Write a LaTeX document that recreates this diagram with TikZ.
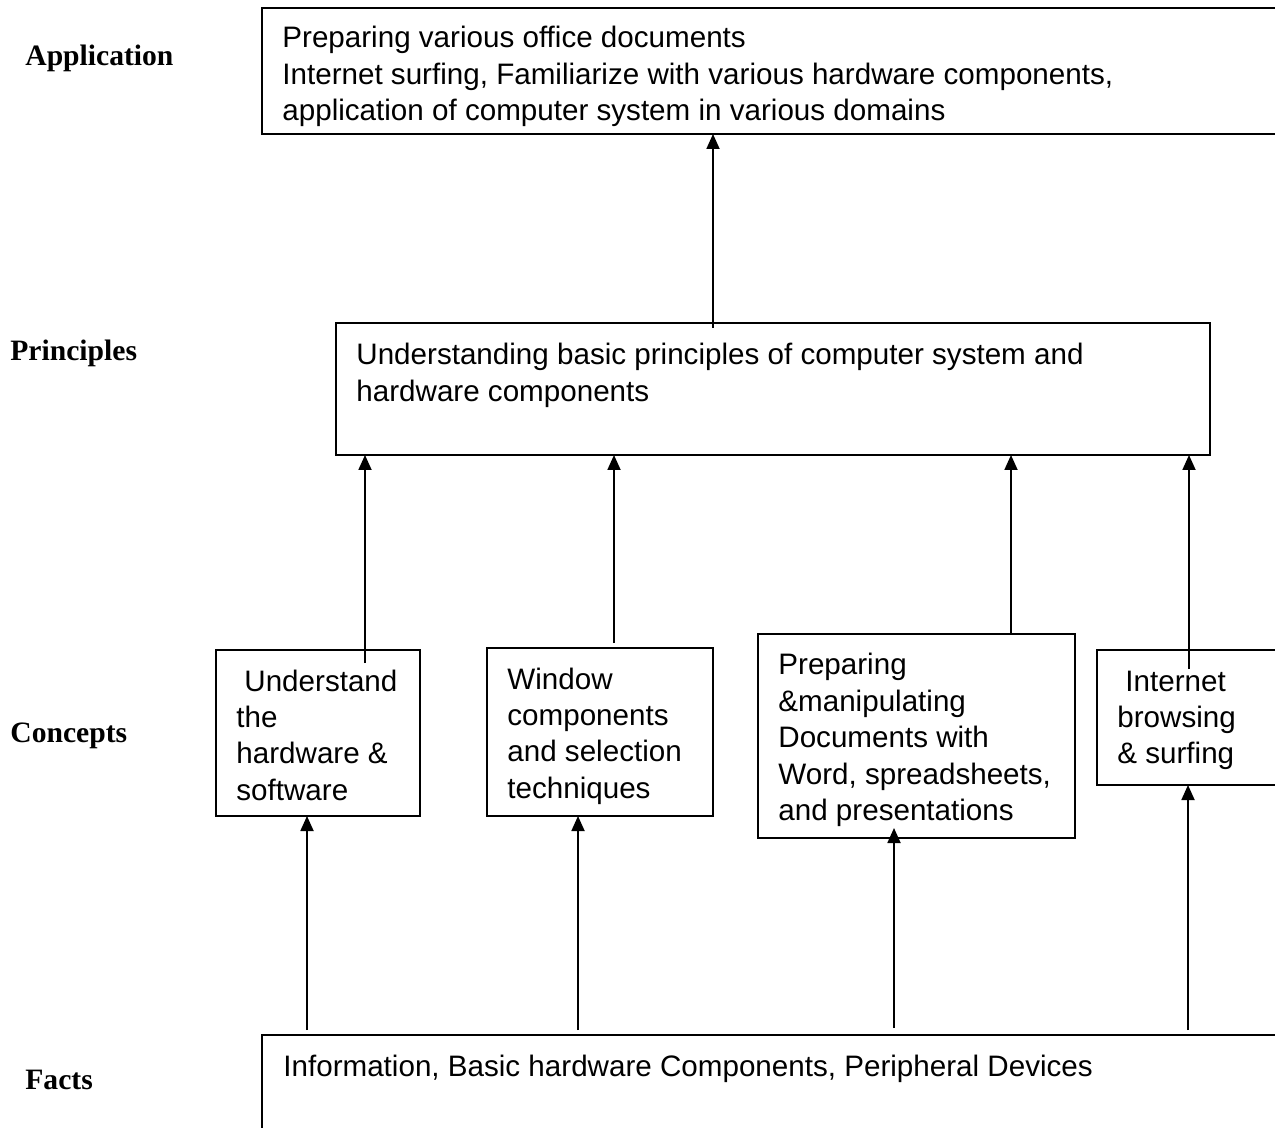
\documentclass[tikz,border=0pt]{standalone}
\usepackage{fontspec}
\setmainfont{Liberation Sans}
\newfontfamily\lblfont{Liberation Serif}
\usetikzlibrary{arrows.meta}
\newcommand\boxlines[1]{\begin{tabular}[t]{@{}l@{}}#1\end{tabular}}
\begin{document}
\begin{tikzpicture}[x=0.5pt,y=-0.5pt,
  box/.style={draw, line width=0.9pt, anchor=north west, inner sep=0pt, outer sep=0pt},
  txt/.style={anchor=base west, inner sep=0pt, font=\fontsize{14.8pt}{18.2pt}\selectfont},
  lbl/.style={anchor=west, inner sep=0pt, font=\lblfont\bfseries\fontsize{14.8pt}{17pt}\selectfont},
  arr/.style={line width=0.9pt, -{Triangle[length=7.5pt,width=6.5pt]}}]
\useasboundingbox (0,0) rectangle (1275,1128);
\clip (0,0) rectangle (1275,1128);

% boxes
\node[box, minimum width=520pt, minimum height=63pt] (app) at (262,8) {};
\node[box, minimum width=437pt, minimum height=66pt] (pr) at (336,323) {};
\node[box, minimum width=102pt, minimum height=83pt] (c1) at (216,650) {};
\node[box, minimum width=113pt, minimum height=84pt] (c2) at (487,648) {};
\node[box, minimum width=158.5pt, minimum height=102pt] (c3) at (758,634) {};
\node[box, minimum width=110pt, minimum height=67.5pt] (c4) at (1097,650) {};
\node[box, minimum width=520pt, minimum height=70pt] (fa) at (262,1035) {};

% texts
\node[txt] (appt) at (282,48) {\boxlines{Preparing various office documents\\
Internet surfing, Familiarize with various hardware components,\\
application of computer system in various domains}};
\node[txt] (prt) at (356,365) {\boxlines{Understanding basic principles of computer system and\\
hardware components}};
\node[txt] (c1t) at (236,691) {\boxlines{\hspace{4pt}Understand\\the\\hardware \&\\software}};
\node[txt] (c2t) at (507,689) {\boxlines{Window\\components\\and selection\\techniques}};
\node[txt] (c3t) at (778,675) {\boxlines{Preparing\\\&manipulating\\Documents with\\Word, spreadsheets,\\and presentations}};
\node[txt] (c4t) at (1117,691) {\boxlines{\hspace{4pt}Internet\\browsing\\\& surfing}};
\node[txt] (fat) at (283,1076) {Information, Basic hardware Components, Peripheral Devices};

% level labels
\node[lbl] (l1) at (25,58) {Application};
\node[lbl] (l2) at (10,353) {Principles};
\node[lbl] (l3) at (10,736) {Concepts};
\node[lbl] (l4) at (25,1080) {Facts};

% connectors
\coordinate (s0) at (713,328);
\coordinate (s1) at (365,663);
\coordinate (s2) at (614,643);
\coordinate (s3) at (1011,634);
\coordinate (s4) at (1189,669);
\coordinate (f1) at (307,1030);
\coordinate (f2) at (578,1030);
\coordinate (f3) at (894,1028);
\coordinate (f4) at (1188,1030);
\draw[arr] (s0) -- (s0 |- app.south);
\draw[arr] (s1) -- (s1 |- pr.south);
\draw[arr] (s2) -- (s2 |- pr.south);
\draw[arr] (s3) -- (s3 |- pr.south);
\draw[arr] (s4) -- (s4 |- pr.south);
\draw[arr] (f1) -- (f1 |- c1.south);
\draw[arr] (f2) -- (f2 |- c2.south);
\draw[arr] (f3) -- ([yshift=5pt]f3 |- c3.south);
\draw[arr] (f4) -- (f4 |- c4.south);
\end{tikzpicture}
\end{document}
